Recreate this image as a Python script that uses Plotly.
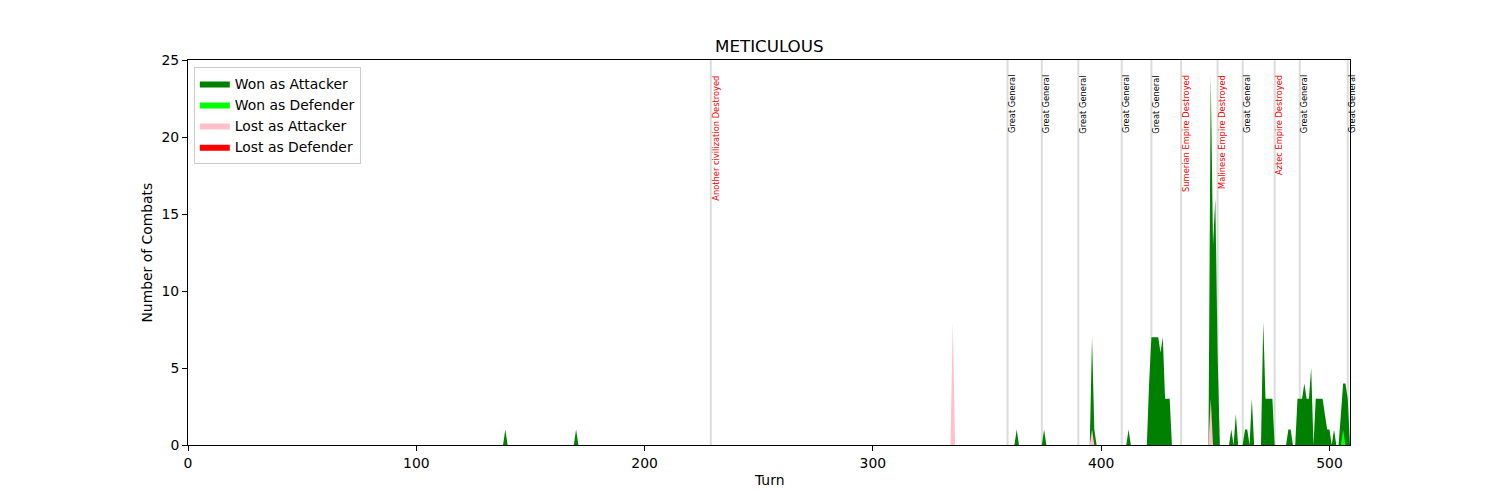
import numpy as np
import plotly.graph_objects as go

# ---------------- data ----------------
n_turns = 510
turns = list(range(n_turns))

won_att_turns = [139, 170, 363, 375, 396, 397, 412,
                 421, 422, 423, 424, 425, 426, 427, 428, 429, 430,
                 448, 449, 450, 451, 457, 459, 463, 464, 466,
                 471, 472, 473, 474, 475, 482, 483,
                 486, 487, 488, 489, 490, 491, 492, 494, 495, 496, 497, 498, 499, 500,
                 502, 505, 506, 507, 508]
won_att_vals = [1, 1, 1, 1, 7, 1, 1,
                4, 7, 7, 7, 7, 6, 7, 3, 3, 3,
                24, 13, 16, 6, 1, 2, 1, 1, 3,
                8, 3, 3, 3, 3, 1, 1,
                3, 3, 3, 4, 3, 3, 5, 3, 3, 3, 3, 2, 1, 1,
                1, 2, 4, 4, 3]

won_def_turns = [506]
won_def_vals = [1]

lost_att_turns = [335, 396, 448]
lost_att_vals = [8, 1, 3]

lost_def_turns = []
lost_def_vals = []

event_turns = [229, 359, 374, 390, 409, 422, 435, 451, 462, 476, 487, 508]
event_labels = ["Another civilization Destroyed", "Great General", "Great General",
                "Great General", "Great General", "Great General",
                "Sumerian Empire Destroyed", "Malinese Empire Destroyed",
                "Great General", "Aztec Empire Destroyed", "Great General", "Great General"]
event_is_destroy = [True, False, False, False, False, False, True, True, False, True, False, False]

series_names = ["Won as Attacker", "Won as Defender", "Lost as Attacker", "Lost as Defender"]
series_colors = ["#008000", "#00ff00", "#ffc0cb", "#ff0000"]


def build(ts, vs):
    arr = np.zeros(n_turns)
    arr[np.array(ts, dtype=int)] = vs
    return arr


all_series = [build(won_att_turns, won_att_vals), build(won_def_turns, won_def_vals),
              build(lost_att_turns, lost_att_vals), build(lost_def_turns, lost_def_vals)]

FONT = "DejaVu Sans"
fig = go.Figure()
for name, col, ys in zip(series_names, series_colors, all_series):
    fig.add_trace(go.Scatter(x=turns, y=ys, mode="lines", fill="tozeroy",
                             line=dict(color=col, width=0), fillcolor=col,
                             name=name, hoverinfo="skip"))

shapes = []
annotations = []
for t, lab, d in zip(event_turns, event_labels, event_is_destroy):
    shapes.append(dict(type="line", xref="x", yref="y", x0=t, x1=t, y0=0, y1=25,
                       line=dict(color="#dcdcdc", width=2), layer="below"))
    annotations.append(dict(x=t, y=24, xref="x", yref="y", text=lab, textangle=-90,
                            xanchor="left", yanchor="top", showarrow=False, borderpad=0,
                            xshift=-1, yshift=1,
                            font=dict(family=FONT, size=8.3, color="red" if d else "black")))

annotations.append(dict(x=0.5, y=-0.0909, xref="paper", yref="paper", text="Turn",
                        showarrow=False, xanchor="center", yanchor="middle",
                        font=dict(family=FONT, size=13.9, color="black")))
annotations.append(dict(x=-0.0361, y=0.5, xref="paper", yref="paper", text="Number of Combats",
                        textangle=-90, showarrow=False, xanchor="center", yanchor="middle",
                        font=dict(family=FONT, size=13.9, color="black")))
annotations.append(dict(x=0.5, y=1.0364, xref="paper", yref="paper", text="METICULOUS",
                        showarrow=False, xanchor="center", yanchor="middle",
                        font=dict(family=FONT, size=16.7, color="black")))

fig.update_layout(
    width=1500, height=500,
    margin=dict(l=180, r=158, t=52, b=63, autoexpand=False),
    paper_bgcolor="white", plot_bgcolor="white",
    font=dict(family=FONT, size=13.9, color="black"),
    shapes=shapes, annotations=annotations,
    showlegend=True,
    legend=dict(x=0.005, y=0.982, xanchor="left", yanchor="top",
                bgcolor="rgba(255,255,255,0.8)", bordercolor="#cccccc", borderwidth=1,
                font=dict(family=FONT, size=13.9, color="black"), tracegroupgap=0),
)
fig.update_xaxes(range=[0, 509], tickvals=[0, 100, 200, 300, 400, 500], showgrid=False,
                 zeroline=False, showline=True, mirror=True, linecolor="black", linewidth=1,
                 ticks="outside", ticklen=5, tickwidth=1, tickcolor="black")
fig.update_yaxes(range=[0, 25], tickvals=[0, 5, 10, 15, 20, 25], showgrid=False,
                 zeroline=False, showline=True, mirror=True, linecolor="black", linewidth=1,
                 ticks="outside", ticklen=5, tickwidth=1, tickcolor="black")

fig.write_html("out.html")
